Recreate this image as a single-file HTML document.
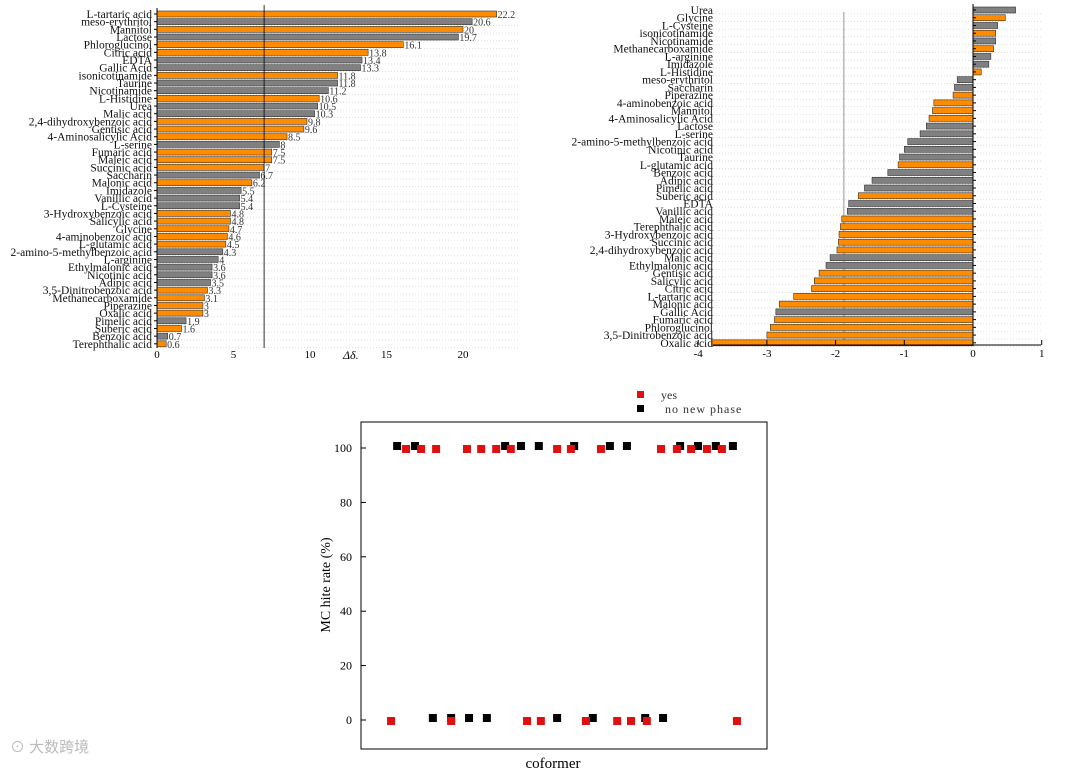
<!DOCTYPE html>
<html><head><meta charset="utf-8"><style>
html,body{margin:0;padding:0;background:#fff;}
svg{display:block;font-family:"Liberation Serif",serif;}
</style></head><body>
<svg id="fig" width="1080" height="771" viewBox="0 0 1080 771">
<g id="left"></g>
<g id="right"></g>
<g id="bottom"></g>
<text x="10" y="752" font-family="'Liberation Sans','Noto Sans CJK SC',sans-serif" font-size="15" fill="#bbb">⊙ 大数跨境</text>
</svg>
<script>
const NS="http://www.w3.org/2000/svg";
const OR="#ff8c00", GR="#808080";
const leftNames=["L-tartaric acid","meso-erythritol","Mannitol","Lactose","Phloroglucinol","Citric acid","EDTA","Gallic Acid","isonicotinamide","Taurine","Nicotinamide","L-Histidine","Urea","Malic acid","2,4-dihydroxybenzoic acid","Gentisic acid","4-Aminosalicylic Acid","L-serine","Fumaric acid","Maleic acid","Succinic acid","Saccharin","Malonic acid","Imidazole","Vanillic acid","L-Cysteine","3-Hydroxybenzoic acid","Salicylic acid","Glycine","4-aminobenzoic acid","L-glutamic acid","2-amino-5-methylbenzoic acid","L-arginine","Ethylmalonic acid","Nicotinic acid","Adipic acid","3,5-Dinitrobenzoic acid","Methanecarboxamide","Piperazine","Oxalic acid","Pimelic acid","Suberic acid","Benzoic acid","Terephthalic acid"];
const leftValues=[22.2,20.6,20,19.7,16.1,13.8,13.4,13.3,11.8,11.8,11.2,10.6,10.5,10.3,9.8,9.6,8.5,8,7.5,7.5,7,6.7,6.2,5.5,5.4,5.4,4.8,4.8,4.7,4.6,4.5,4.3,4,3.6,3.6,3.5,3.3,3.1,3,3,1.9,1.6,0.7,0.6];
const leftYes=[1,0,1,0,1,1,0,0,1,0,0,1,0,0,1,1,1,0,1,1,1,0,1,0,0,0,1,1,1,1,1,0,0,0,0,0,1,1,1,1,0,1,0,1];
const leftTicks=[0,5,10,15,20];
const rightNames=["Urea","Glycine","L-Cysteine","isonicotinamide","Nicotinamide","Methanecarboxamide","L-arginine","Imidazole","L-Histidine","meso-erythritol","Saccharin","Piperazine","4-aminobenzoic acid","Mannitol","4-Aminosalicylic Acid","Lactose","L-serine","2-amino-5-methylbenzoic acid","Nicotinic acid","Taurine","L-glutamic acid","Benzoic acid","Adipic acid","Pimelic acid","Suberic acid","EDTA","Vanillic acid","Maleic acid","Terephthalic acid","3-Hydroxybenzoic acid","Succinic acid","2,4-dihydroxybenzoic acid","Malic acid","Ethylmalonic acid","Gentisic acid","Salicylic acid","Citric acid","L-tartaric acid","Malonic acid","Gallic Acid","Fumaric acid","Phloroglucinol","3,5-Dinitrobenzoic acid","Oxalic acid"];
const rightValues=[0.62,0.47,0.36,0.33,0.33,0.30,0.26,0.23,0.12,-0.23,-0.27,-0.29,-0.57,-0.59,-0.64,-0.68,-0.77,-0.95,-1.0,-1.07,-1.09,-1.24,-1.47,-1.58,-1.67,-1.81,-1.83,-1.91,-1.93,-1.95,-1.96,-1.98,-2.08,-2.14,-2.24,-2.31,-2.35,-2.61,-2.82,-2.87,-2.89,-2.95,-3.0,-3.8];
const rightYes=[0,1,0,1,0,1,0,0,1,0,0,1,1,1,1,0,0,0,0,0,1,0,0,0,1,0,0,1,1,1,1,1,0,0,1,1,1,1,1,0,1,1,1,1];
const rightTicks=[-4,-3,-2,-1,0,1];
const yesX=[11.1,14.8,18.5,26.1,29.6,33.3,36.9,48.3,51.7,59.1,73.9,77.8,81.3,85.2,88.9,7.4,22.2,40.9,44.3,55.4,63.1,66.5,70.4,92.6];
const yesY=[100,100,100,100,100,100,100,100,100,100,100,100,100,100,100,0,0,0,0,0,0,0,0,0];
const noX=[8.9,13.3,35.5,39.4,43.8,52.5,61.3,65.5,78.6,83,87.4,91.6,17.7,22.2,26.6,31,48.3,57.1,70,74.4];
const noY=[100,100,100,100,100,100,100,100,100,100,100,100,0,0,0,0,0,0,0,0];
const yTicks=[0,20,40,60,80,100];

function el(tag,attrs,parent,text){const e=document.createElementNS(NS,tag);for(const k in attrs)e.setAttribute(k,attrs[k]);if(text!==undefined)e.textContent=text;parent.appendChild(e);return e;}

// LEFT
(function(){
const g=document.getElementById('left');
const x=v=>157+v*15.3, y=i=>14+i*7.67;
for(let i=0;i<leftNames.length;i++){
 el('line',{x1:157,x2:520,y1:y(i)+3.8,y2:y(i)+3.8,stroke:"#ddd","stroke-dasharray":"1,2"},g);
}
leftValues.forEach((v,i)=>{
 const r=el('rect',{x:157,y:y(i)-3,width:x(v)-157,height:6,fill:leftYes[i]?OR:GR,stroke:"#333","stroke-width":0.6},g);
 
 
 const t=el('text',{x:x(v)+1,y:y(i)+4,"font-size":10,fill:"#333"},g,String(v));
 
 
 const l=el('text',{x:152,y:y(i)+4,"font-size":11.5,"text-anchor":"end",fill:"#111"},g,leftNames[i]);
 
 
 el('line',{x1:154,x2:157,y1:y(i),y2:y(i),stroke:"#000"},g);
});
el('line',{x1:157,x2:157,y1:8,y2:348,stroke:"#000"},g);
el('line',{x1:x(7),x2:x(7),y1:5,y2:348,stroke:"#000","stroke-width":0.8},g);
leftTicks.forEach(t=>{
 const tx=el('text',{x:x(t),y:358,"font-size":11,"text-anchor":"middle"},g,String(t));
 
 
});
el('text',{x:343,y:359,"font-size":12,"font-style":"italic",},g,"Δδ.");
})();

// RIGHT
(function(){
const g=document.getElementById('right');
const x=v=>973+v*68.7, y=i=>10+i*7.74;
for(let i=0;i<rightNames.length;i++){
 el('line',{x1:713,x2:1041,y1:y(i)+3.8,y2:y(i)+3.8,stroke:"#ddd","stroke-dasharray":"1,2"},g);
}
el('line',{x1:x(-1.88),x2:x(-1.88),y1:12,y2:345,stroke:"#aaa","stroke-width":1.2},g);
rightValues.forEach((v,i)=>{
 const x0=Math.min(x(0),x(v));
 const r=el('rect',{x:x0,y:y(i)-3,width:Math.abs(x(v)-x(0)),height:6,fill:rightYes[i]?OR:GR,stroke:"#333","stroke-width":0.6},g);
 
 
 const l=el('text',{x:713,y:y(i)+4,"font-size":11.5,"text-anchor":"end",fill:"#111"},g,rightNames[i]);
 
 
 el('line',{x1:973,x2:976,y1:y(i),y2:y(i),stroke:"#000"},g);
});
el('line',{x1:973,x2:973,y1:4,y2:346,stroke:"#000"},g);
el('line',{x1:713,x2:1041,y1:345,y2:345,stroke:"#000"},g);
rightTicks.forEach(t=>{
 el('line',{x1:x(t),x2:x(t),y1:340,y2:345,stroke:"#000"},g);
 const tx=el('text',{x:x(t),y:357,"font-size":11,"text-anchor":"middle"},g,String(t));
 
 
});
})();

// BOTTOM
(function(){
const g=document.getElementById('bottom');
const x=v=>361+v*4.06, y=v=>720-v*2.72;
el('rect',{x:361,y:422,width:406,height:327,fill:"none",stroke:"#000","stroke-width":1,},g);
yTicks.forEach(t=>{
 el('line',{x1:361,x2:366,y1:y(t),y2:y(t),stroke:"#000"},g);
 const tx=el('text',{x:352,y:y(t)+4,"font-size":12,"text-anchor":"end"},g,String(t));
 
 
});
noX.forEach((v,i)=>{
 const r=el('rect',{x:x(v)-4,y:y(noY[i])-6,width:8,height:8,fill:"#000"},g);
 
 
});
yesX.forEach((v,i)=>{
 const r=el('rect',{x:x(v)-4,y:y(yesY[i])-3,width:8,height:8,fill:"#e01010"},g);
 
 
});
el('text',{x:330,y:585,"font-size":14,"text-anchor":"middle",transform:"rotate(-90 330 585)",},g,"MC hite rate (%)");
el('text',{x:553,y:768,"font-size":15,"text-anchor":"middle",},g,"coformer");
el('rect',{x:637,y:391,width:7,height:7,fill:"#e01010",},g);
el('text',{x:661,y:399,"font-size":12,fill:"#333",},g,"yes");
el('rect',{x:637,y:405,width:7,height:7,fill:"#000",},g);
el('text',{x:665,y:413,"font-size":12,fill:"#333","letter-spacing":"1",},g,"no new phase");
})();
</script>
</body></html>
